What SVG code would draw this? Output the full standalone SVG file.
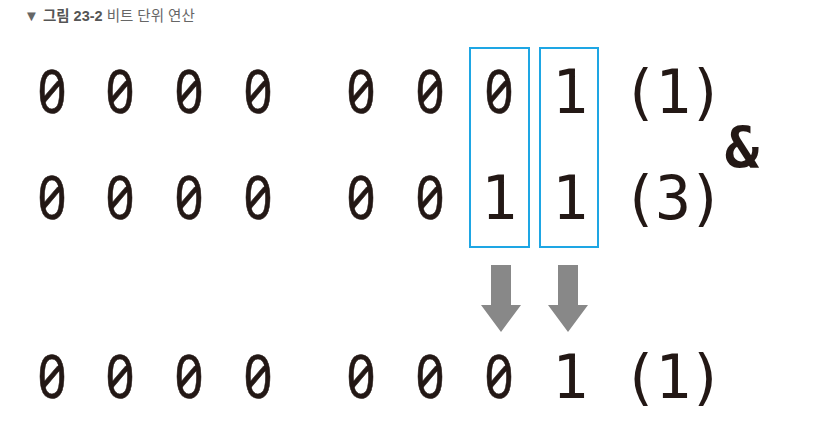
<svg xmlns="http://www.w3.org/2000/svg" width="833" height="443" viewBox="0 0 833 443">
<style>
.d{font-family:"DejaVu Sans Mono","Liberation Mono",monospace;font-size:60px;fill:#231815;text-anchor:middle}
.p{font-family:"DejaVu Sans Mono","Liberation Mono",monospace;font-size:60px;fill:#231815;letter-spacing:-3px}
.z{font-family:"Noto Sans","DejaVu Sans",sans-serif;font-size:61px;fill:#231815;text-anchor:middle;font-feature-settings:"zero" 1;stroke:#231815;stroke-width:0.6}
.amp{font-family:"DejaVu Sans Mono","Liberation Mono",monospace;font-size:57px;font-weight:bold;fill:#231815;text-anchor:middle}
.box{fill:none;stroke:#1EA6E4;stroke-width:2}
.arr{fill:#888888}
.t{font-family:"Liberation Sans","Noto Sans CJK KR",sans-serif;font-size:14.5px;fill:#666666}
</style>
<rect width="833" height="443" fill="#ffffff"/>
<g id="title">
<text class="t" x="24" y="21"><tspan font-size="15">▼</tspan> <tspan font-weight="bold" fill="#555555">그림 23-2</tspan> 비트 단위 연산</text>
</g>
<g id="row1">
<text class="z" y="113" x="52" textLength="29" lengthAdjust="spacingAndGlyphs">0</text>
<text class="z" y="113" x="120" textLength="29" lengthAdjust="spacingAndGlyphs">0</text>
<text class="z" y="113" x="189" textLength="29" lengthAdjust="spacingAndGlyphs">0</text>
<text class="z" y="113" x="258" textLength="29" lengthAdjust="spacingAndGlyphs">0</text>
<text class="z" y="113" x="361" textLength="29" lengthAdjust="spacingAndGlyphs">0</text>
<text class="z" y="113" x="430" textLength="29" lengthAdjust="spacingAndGlyphs">0</text>
<text class="z" y="113" x="499" textLength="29" lengthAdjust="spacingAndGlyphs">0</text>
<text class="d" y="113" x="570">1</text>
<text class="p" y="113" x="622">(1)</text>
</g>
<g id="row2">
<text class="z" y="219" x="52" textLength="29" lengthAdjust="spacingAndGlyphs">0</text>
<text class="z" y="219" x="120" textLength="29" lengthAdjust="spacingAndGlyphs">0</text>
<text class="z" y="219" x="189" textLength="29" lengthAdjust="spacingAndGlyphs">0</text>
<text class="z" y="219" x="258" textLength="29" lengthAdjust="spacingAndGlyphs">0</text>
<text class="z" y="219" x="361" textLength="29" lengthAdjust="spacingAndGlyphs">0</text>
<text class="z" y="219" x="430" textLength="29" lengthAdjust="spacingAndGlyphs">0</text>
<text class="d" y="219" x="499">1</text>
<text class="d" y="219" x="570">1</text>
<text class="p" y="219" x="622">(3)</text>
</g>
<g id="op">
<text class="amp" x="742" y="168">&amp;</text>
</g>
<g id="boxes">
<rect class="box" x="470" y="48" width="59" height="199"/>
<rect class="box" x="540" y="48" width="58" height="199"/>
</g>
<g id="connectors">
<polygon class="arr" points="491,265 511,265 511,305 521,305 501,332 481,305 491,305"/>
<polygon class="arr" points="558,265 578,265 578,305 588,305 568,332 548,305 558,305"/>
</g>
<g id="row3">
<text class="z" y="398" x="52" textLength="29" lengthAdjust="spacingAndGlyphs">0</text>
<text class="z" y="398" x="120" textLength="29" lengthAdjust="spacingAndGlyphs">0</text>
<text class="z" y="398" x="189" textLength="29" lengthAdjust="spacingAndGlyphs">0</text>
<text class="z" y="398" x="258" textLength="29" lengthAdjust="spacingAndGlyphs">0</text>
<text class="z" y="398" x="361" textLength="29" lengthAdjust="spacingAndGlyphs">0</text>
<text class="z" y="398" x="430" textLength="29" lengthAdjust="spacingAndGlyphs">0</text>
<text class="z" y="398" x="499" textLength="29" lengthAdjust="spacingAndGlyphs">0</text>
<text class="d" y="398" x="570">1</text>
<text class="p" y="398" x="622">(1)</text>
</g>
</svg>
